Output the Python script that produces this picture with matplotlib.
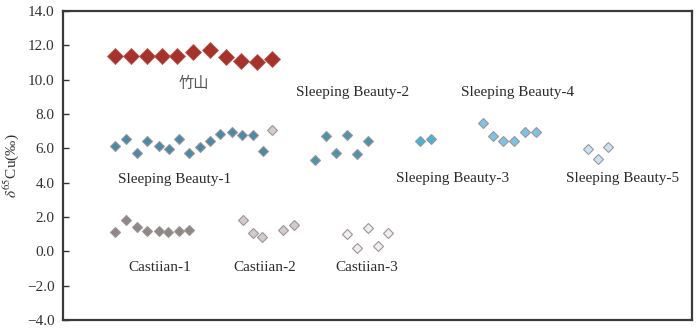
import matplotlib
matplotlib.use('Agg')
import matplotlib.pyplot as plt

plt.rcParams['font.family'] = ['Liberation Serif', 'DejaVu Serif']
plt.rcParams['mathtext.fontset'] = 'stix'

# sample positions (arbitrary order along x) and d65Cu values (permil)
zs_x = [8.3, 10.8, 13.3, 15.7, 18.2, 20.7, 23.3, 25.9, 28.3, 30.8, 33.3]
zs_y = [11.35, 11.35, 11.35, 11.35, 11.35, 11.6, 11.75, 11.3, 11.1, 11.05, 11.2]

sb1_x = [8.3, 10.0, 11.8, 13.4, 15.2, 16.8, 18.4, 20.0, 21.8, 23.4, 25.0, 26.8, 28.4, 30.2, 31.8]
sb1_y = [6.15, 6.55, 5.7, 6.45, 6.15, 5.95, 6.55, 5.7, 6.05, 6.4, 6.85, 6.95, 6.75, 6.75, 5.85]
sb1_extra_x = [33.3]
sb1_extra_y = [7.05]

sb2_x = [40.1, 41.8, 43.4, 45.1, 46.8, 48.5]
sb2_y = [5.3, 6.7, 5.7, 6.75, 5.65, 6.4]

sb3_x = [56.8, 58.5]
sb3_y = [6.4, 6.55]

sb4_x = [66.7, 68.4, 70.0, 71.7, 73.5, 75.2]
sb4_y = [7.5, 6.7, 6.4, 6.4, 6.95, 6.95]

sb5_x = [83.4, 85.0, 86.7]
sb5_y = [5.95, 5.35, 6.1]

c1_x = [8.3, 10.0, 11.7, 13.4, 15.2, 16.7, 18.4, 20.1]
c1_y = [1.1, 1.85, 1.4, 1.2, 1.2, 1.15, 1.2, 1.25]

c2_x = [28.6, 30.2, 31.7, 35.0, 36.7]
c2_y = [1.8, 1.05, 0.85, 1.25, 1.55]

c3_x = [45.1, 46.7, 48.5, 50.1, 51.7]
c3_y = [1.0, 0.2, 1.35, 0.3, 1.05]

yticks = [-4, -2, 0, 2, 4, 6, 8, 10, 12, 14]

fig = plt.figure(figsize=(7.0, 3.28), dpi=100)
ax = fig.add_axes([0.09, 0.0244, 0.8986, 0.9421])

small = dict(marker='D', linestyle='none', markersize=5.6,
             markeredgecolor='#9c9696', markeredgewidth=0.8)

ax.plot(zs_x, zs_y, marker='D', linestyle='none', markersize=8.6,
        color='#a5332b', markeredgecolor='#b65a52', markeredgewidth=0.6)
ax.plot(sb1_x, sb1_y, color='#4a89a8', **small)
ax.plot(sb1_extra_x, sb1_extra_y, color='#d3cbc9', **small)
ax.plot(sb2_x, sb2_y, color='#4d93ae', **small)
ax.plot(sb3_x, sb3_y, color='#46b3d8', **small)
ax.plot(sb4_x, sb4_y, color='#7cc3e7', **small)
ax.plot(sb5_x, sb5_y, color='#c9e3f5', **small)
ax.plot(c1_x, c1_y, color='#8f8785', **small)
ax.plot(c2_x, c2_y, color='#d3cbc9', **small)
ax.plot(c3_x, c3_y, color='#f2eeee', **small)

lab = dict(ha='center', va='center', fontsize=11, color='#2b2b2b')
ax.text(20.8, 9.75, '竹山', family=['Noto Sans CJK SC', 'DejaVu Sans'],
        fontsize=11, ha='center', va='center', color='#555555')
ax.text(17.8, 4.2, 'Sleeping Beauty-1', **lab)
ax.text(46.0, 9.25, 'Sleeping Beauty-2', **lab)
ax.text(61.9, 4.25, 'Sleeping Beauty-3', **lab)
ax.text(72.2, 9.25, 'Sleeping Beauty-4', **lab)
ax.text(88.9, 4.25, 'Sleeping Beauty-5', **lab)
ax.text(15.4, -0.95, 'Castiian-1', **lab)
ax.text(32.0, -0.95, 'Castiian-2', **lab)
ax.text(48.3, -0.95, 'Castiian-3', **lab)

ax.set_xlim(0, 100)
ax.set_ylim(-4, 14)
ax.set_xticks([])
ax.set_yticks(yticks)
ax.set_yticklabels([f'{v:.1f}'.replace('-', '\u2212') for v in yticks])
ax.tick_params(axis='y', direction='in', length=4, width=1.0, labelsize=11,
               colors='#333333', pad=6)
for s in ax.spines.values():
    s.set_color('#3a3a3a')
    s.set_linewidth(1.6)
ax.set_ylabel(r'$\delta^{65}$Cu(‰)', fontsize=11, color='#333333', labelpad=4)

fig.savefig('out.png', dpi=100)
